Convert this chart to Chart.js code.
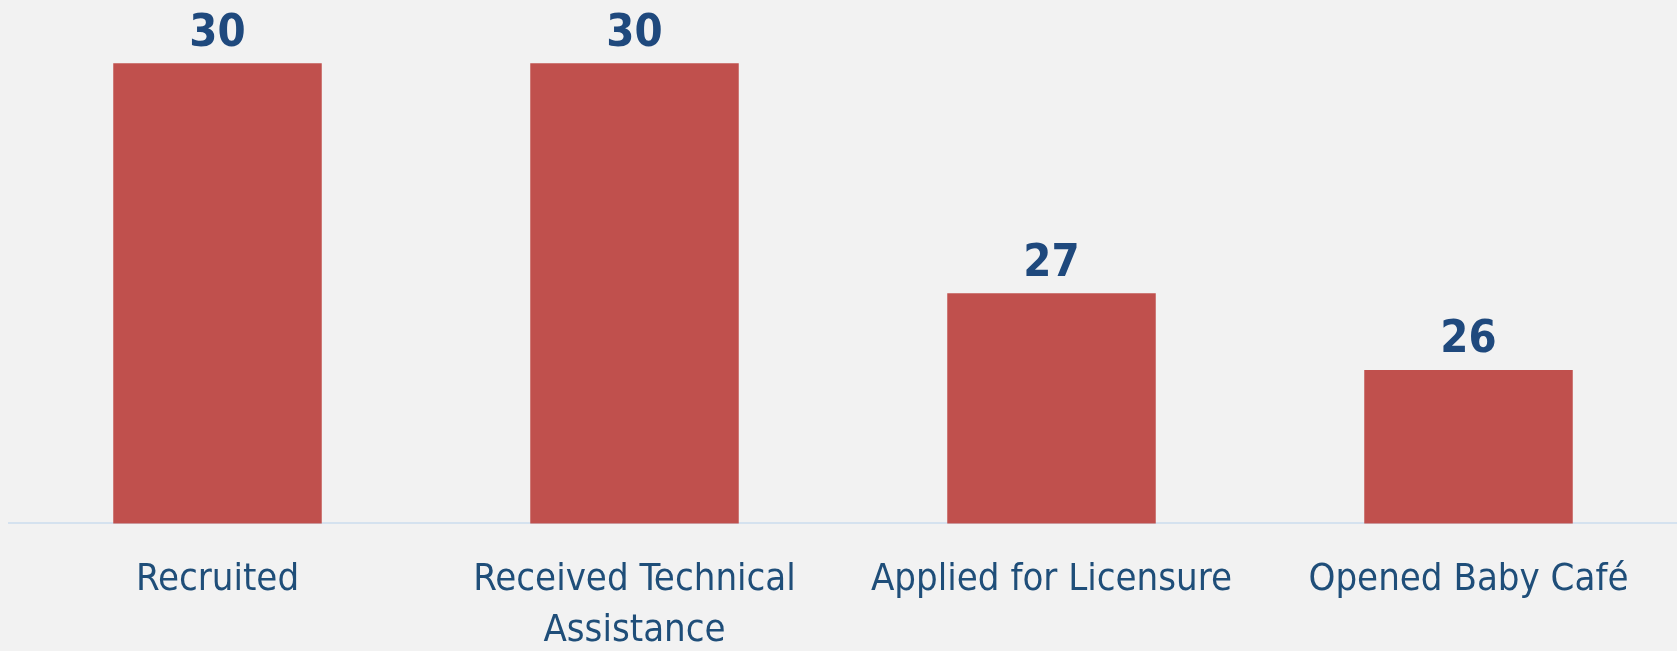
<!DOCTYPE html>
<html lang="en">
<head>
  <meta charset="UTF-8">
  <title>Baby Café Progress</title>
  <style>
    body {
      margin: 0;
      padding: 0;
      background-color: #f2f2f2;
    }

    #wrap {
      width: 1677px;
      height: 651px;
      position: relative;
    }
  </style>
</head>
<body>
  <div id="wrap">
    <canvas id="chart"></canvas>
  </div>

  <script src="https://cdn.jsdelivr.net/npm/chart.js"></script>
  <script>
    const categories = ['Recruited', ['Received Technical', 'Assistance'], 'Applied for Licensure', 'Opened Baby Café'];
    const counts = [30, 30, 27, 26];

    const fontStack = "'Liberation Sans Narrow', 'DejaVu Sans Condensed', 'Open Sans', sans-serif";

    // draw the value above each bar
    const valueLabels = {
      id: 'valueLabels',
      afterDatasetsDraw(chart) {
        const ctx = chart.ctx;
        const meta = chart.getDatasetMeta(0);
        ctx.save();
        ctx.fillStyle = '#1f497d';
        ctx.font = "bold 45px " + fontStack;
        ctx.textAlign = 'center';
        ctx.textBaseline = 'bottom';
        meta.data.forEach((bar, i) => {
          ctx.fillText(counts[i], bar.x, bar.y - 7);
        });
        ctx.restore();
      }
    };

    const ctx = document.getElementById('chart').getContext('2d');
    new Chart(ctx, {
      type: 'bar',
      data: {
        labels: categories,
        datasets: [{
          data: counts,
          backgroundColor: '#c0504d',
          barPercentage: 0.5,
          categoryPercentage: 1.0
        }]
      },
      options: {
        responsive: true,
        maintainAspectRatio: false,
        animation: false,
        layout: {
          padding: { left: 9, right: 0, top: 2, bottom: -37 }
        },
        plugins: {
          legend: { display: false },
          tooltip: { enabled: false }
        },
        scales: {
          x: {
            grid: { display: false, drawTicks: false },
            border: { display: true, color: '#d5e2ef', width: 2 },
            ticks: {
              color: '#1f4e79',
              padding: 31,
              maxRotation: 0,
              autoSkip: false,
              font: { family: fontStack, size: 38, lineHeight: 1.35 }
            }
          },
          y: {
            display: false,
            min: 24,
            max: 30.8
          }
        }
      },
      plugins: [valueLabels]
    });
  </script>
</body>
</html>
